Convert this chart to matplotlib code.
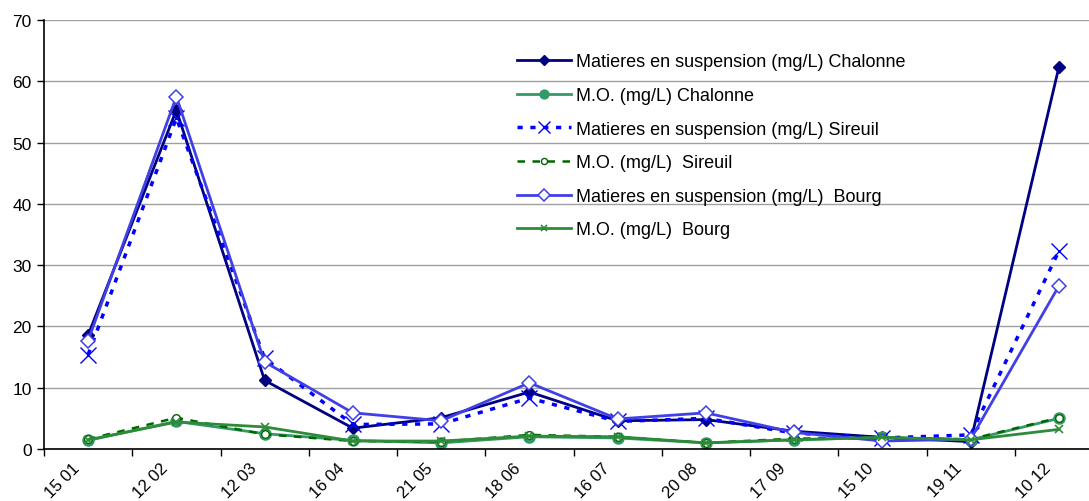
import numpy as np
import matplotlib.pyplot as plt
from matplotlib.transforms import ScaledTranslation

plt.rcParams.update({
    "font.family": ["Liberation Sans", "DejaVu Sans"],
    "font.size": 12.5,
})

dates = ["15 01", "12 02", "12 03", "16 04", "21 05", "18 06",
         "16 07", "20 08", "17 09", "15 10", "19 11", "10 12"]

mes_chalonne = [18.6, 55.3, 11.2, 3.4, 5.1, 9.3, 4.6, 4.8, 2.9, 1.9, 1.2, 62.3]
mo_chalonne = [1.4, 4.5, 2.5, 1.4, 1.0, 2.0, 1.8, 1.0, 1.5, 1.9, 1.5, 5.0]
mes_sireuil = [15.4, 54.0, 14.8, 4.0, 4.1, 8.3, 4.5, 5.0, 2.6, 1.8, 2.3, 32.3]
mo_sireuil = [1.6, 5.1, 2.4, 1.3, 1.2, 2.3, 2.0, 1.0, 1.7, 1.8, 1.6, 5.1]
mes_bourg = [17.7, 57.5, 14.2, 5.9, 4.6, 10.8, 4.9, 5.9, 2.7, 1.3, 1.6, 26.6]
mo_bourg = [1.5, 4.4, 3.6, 1.3, 1.3, 2.1, 2.0, 1.0, 1.5, 1.9, 1.5, 3.2]

x = np.arange(len(dates))

fig = plt.figure(figsize=(10.89, 5.02), dpi=100)
ax = fig.add_axes([44 / 1089, 52 / 502, 1059 / 1089, 429 / 502])

ax.plot(x, mes_chalonne, color="#000080", lw=2, marker="D", ms=6.5,
        label="Matieres en suspension (mg/L) Chalonne")
ax.plot(x, mo_chalonne, color="#339966", lw=2, marker="o", ms=8,
        label="M.O. (mg/L) Chalonne")
ax.plot(x, mes_sireuil, color="#0000FF", lw=2.5, ls=(0, (1.5, 2.2)),
        marker="x", ms=11, mew=1, label="Matieres en suspension (mg/L) Sireuil")
ax.plot(x, mo_sireuil, color="#006600", lw=1.8, ls=(0, (3, 3)),
        marker="o", ms=5.5, mfc="white", mew=1, label="M.O. (mg/L)  Sireuil")
ax.plot(x, mes_bourg, color="#4040E6", lw=2, marker="D", ms=7.5,
        mfc="white", mew=1.1, label="Matieres en suspension (mg/L)  Bourg")
ax.plot(x, mo_bourg, color="#2E8B3A", lw=2, marker="x", ms=6,
        mew=1.2, label="M.O. (mg/L)  Bourg")

ax.set_ylim(0, 70)
ax.set_yticks(np.arange(0, 71, 10))
ax.set_xlim(-0.5, len(dates) - 0.5)

# ticks between categories, labels under the points
ax.set_xticks(np.arange(-0.5, len(dates)), minor=False)
ax.set_xticklabels([])
ax.set_xticks(x, minor=True)
ax.set_xticklabels(dates, minor=True, rotation=45, ha="right", va="top",
                   rotation_mode="anchor", fontsize=12)
ax.tick_params(axis="x", which="minor", length=0, pad=8)
ax.tick_params(axis="x", which="major", length=5, width=1)
ax.tick_params(axis="y", length=5, width=1, pad=4)
off = ScaledTranslation(-0.16, 0, fig.dpi_scale_trans)
for lab in ax.get_xticklabels(minor=True):
    lab.set_transform(lab.get_transform() + off)

ax.grid(axis="y", color="#a0a0a0", lw=1)
ax.set_axisbelow(True)
for side in ["top", "right"]:
    ax.spines[side].set_visible(False)
ax.spines["left"].set_linewidth(1.2)
ax.spines["bottom"].set_linewidth(1.2)

leg = ax.legend(loc="upper left", bbox_to_anchor=(0.431, 0.96), frameon=False,
                labelspacing=0.92, handlelength=3.0, handletextpad=0.3,
                fontsize=13, markerscale=0.8)

fig.savefig("out.png", dpi=100)
